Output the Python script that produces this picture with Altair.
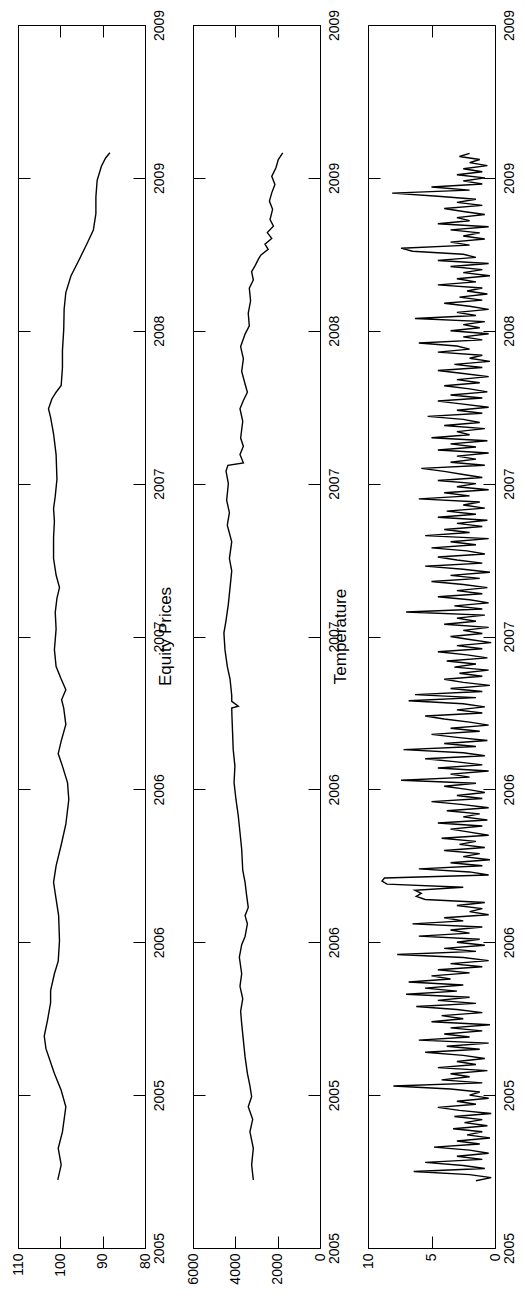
import json
import altair as alt
import pandas as pd

# ---------------- data ----------------
TIME_TICKS = [2005, 2005.5, 2006, 2006.5, 2007, 2007.5, 2008, 2008.5, 2009]
TIME_LABELS = ["2005", "2005", "2006", "2006", "2007", "2007", "2008", "2009", "2009"]

PROD_T = [2005.223, 2005.272, 2005.326, 2005.380, 2005.462, 2005.516, 2005.571, 2005.652,
          2005.693, 2005.747, 2005.802, 2005.842, 2005.897, 2005.938, 2006.005, 2006.087,
          2006.141, 2006.196, 2006.250, 2006.318, 2006.386, 2006.467, 2006.522, 2006.576,
          2006.617, 2006.658, 2006.712, 2006.766, 2006.793, 2006.826, 2006.861, 2006.902,
          2006.957, 2007.024, 2007.079, 2007.125, 2007.160, 2007.201, 2007.255, 2007.323,
          2007.378, 2007.418, 2007.459, 2007.514, 2007.595, 2007.663, 2007.717, 2007.745,
          2007.777, 2007.799, 2007.821, 2007.880, 2007.935, 2008.003, 2008.071, 2008.125,
          2008.179, 2008.234, 2008.288, 2008.329, 2008.383, 2008.438, 2008.492, 2008.538,
          2008.565, 2008.582]
PROD_V = [100.6, 99.8, 100.5, 99.5, 98.7, 99.8, 101.4, 103.4,
          103.8, 103.0, 102.3, 102.3, 101.4, 100.5, 100.2, 100.4,
          101.0, 101.6, 101.0, 99.8, 98.7, 98.0, 98.3, 99.5,
          100.5, 99.8, 98.7, 99.2, 99.7, 98.7, 99.8, 101.0,
          101.4, 101.0, 101.2, 100.8, 100.2, 101.0, 101.6, 101.6,
          101.4, 101.6, 101.2, 100.8, 101.0, 101.6, 102.3, 102.8,
          102.0, 101.0, 99.8, 99.5, 99.5, 99.2, 99.1, 98.7,
          97.5, 95.5, 93.6, 92.2, 91.6, 91.6, 91.3, 90.3,
          89.3, 88.3]

EQ_T = [2005.223, 2005.272, 2005.326, 2005.380, 2005.421, 2005.462, 2005.495, 2005.530,
        2005.571, 2005.625, 2005.679, 2005.734, 2005.774, 2005.815, 2005.856, 2005.897,
        2005.951, 2005.992, 2006.019, 2006.060, 2006.087, 2006.114, 2006.155, 2006.196,
        2006.236, 2006.304, 2006.359, 2006.413, 2006.467, 2006.522, 2006.576, 2006.630,
        2006.685, 2006.739, 2006.766, 2006.772, 2006.788, 2006.807, 2006.861, 2006.902,
        2006.957, 2007.011, 2007.052, 2007.106, 2007.160, 2007.215, 2007.255, 2007.310,
        2007.364, 2007.405, 2007.446, 2007.500, 2007.541, 2007.560, 2007.568, 2007.595,
        2007.622, 2007.649, 2007.704, 2007.745, 2007.772, 2007.799, 2007.826, 2007.867,
        2007.908, 2007.948, 2007.989, 2008.016, 2008.057, 2008.098, 2008.139, 2008.166,
        2008.193, 2008.212, 2008.234, 2008.247, 2008.266, 2008.283, 2008.302, 2008.321,
        2008.342, 2008.364, 2008.397, 2008.424, 2008.451, 2008.478, 2008.505, 2008.533,
        2008.560, 2008.582]
EQ_V = [3150, 3230, 3150, 3310, 3180, 3390, 3230, 3310,
        3430, 3540, 3620, 3700, 3750, 3650, 3780, 3700,
        3810, 3700, 3540, 3430, 3540, 3390, 3470, 3540,
        3650, 3700, 3780, 3860, 3970, 4060, 4020, 4100,
        4130, 4160, 4170, 3860, 4170, 4170, 4250, 4380,
        4490, 4540, 4440, 4330, 4250, 4170, 4280, 4170,
        4380, 4280, 4410, 4330, 4440, 4350, 3620, 3780,
        3620, 3750, 3650, 3780, 3620, 3430, 3540, 3700,
        3620, 3750, 3540, 3340, 3390, 3280, 3340, 3150,
        3230, 3070, 2910, 2800, 2450, 2600, 2280, 2490,
        2200, 2360, 2240, 2390, 2280, 2130, 2280, 2080,
        1970, 1760]

TEMP_START = 2005.22
TEMP_STEP = 0.01
TEMP_V = [
    1.5, 0.3, 2.0, 6.4, 0.8, 2.5, 5.5, 1.0, 3.0, 0.5,
    2.0, 4.8, 1.2, 3.0, 0.4, 2.2, 1.0, 3.3, 0.6, 2.4,
    1.0, 3.2, 0.3, 2.8, 4.5, 1.5, 3.0, 0.5, 2.0, 1.2,
    3.5, 8.0, 1.0, 4.2, 2.0, 3.5, 0.6, 4.5, 1.5, 3.0,
    0.8, 2.5, 5.5, 1.2, 3.8, 0.5, 6.0, 2.0, 4.0, 1.0,
    3.5, 0.4, 5.0, 2.5, 4.2, 1.0, 3.0, 6.2, 1.5, 4.5,
    2.0, 7.0, 3.0, 5.5, 2.5, 6.8, 3.5, 5.0, 2.0, 4.5,
    1.0, 3.5, 0.5, 2.5, 7.7, 1.5, 4.0, 0.8, 3.0, 1.2,
    6.0, 2.0, 3.5, 1.0, 6.5, 2.5, 4.0, 0.5, 2.0, 1.0,
    3.0, 0.8, 5.5, 6.2, 5.8, 6.3, 2.5, 8.5, 8.9, 8.7,
    0.5, 2.0, 6.0, 1.0, 3.5, 0.4, 2.5, 1.2, 4.0, 0.8,
    2.8, 1.5, 4.2, 0.5, 2.0, 3.5, 1.0, 4.5, 0.6, 2.5,
    1.2, 3.8, 0.5, 2.5, 5.0, 1.0, 3.0, 0.8, 2.2, 4.0,
    1.5, 7.4, 2.0, 3.5, 0.5, 4.5, 1.0, 3.0, 5.5, 0.8,
    2.5, 7.2, 1.5, 4.0, 0.6, 3.0, 5.0, 1.2, 3.5, 0.5,
    2.0, 4.0, 5.5, 1.0, 3.0, 0.8, 2.5, 6.8, 1.5, 6.3,
    1.0, 3.5, 0.4, 2.5, 4.0, 1.0, 2.8, 0.5, 3.2, 1.5,
    3.8, 0.6, 2.2, 4.5, 1.0, 3.0, 0.3, 2.0, 3.5, 1.0,
    2.5, 0.5, 4.0, 1.5, 3.0, 0.8, 7.0, 1.0, 3.2, 0.5,
    2.0, 4.5, 1.0, 3.0, 0.6, 2.5, 5.0, 1.2, 3.5, 0.4,
    2.5, 5.5, 1.0, 3.0, 4.5, 0.8, 2.2, 5.0, 1.5, 3.5,
    0.5, 5.5, 2.0, 4.0, 1.0, 3.0, 0.6, 4.5, 1.5, 3.8,
    0.8, 2.5, 1.2, 6.0, 2.0, 4.0, 0.5, 3.0, 1.5, 4.5,
    1.0, 2.5, 4.0, 5.8, 0.8, 3.5, 1.5, 3.0, 0.5, 4.5,
    1.5, 3.5, 0.6, 5.0, 2.0, 3.0, 0.8, 4.0, 1.2, 2.5,
    5.3, 1.0, 3.0, 0.5, 2.5, 4.5, 1.0, 3.5, 0.6, 2.0,
    4.0, 1.2, 3.0, 0.5, 2.5, 4.5, 1.0, 3.2, 0.4, 2.0,
    1.0, 4.5, 2.0, 3.0, 6.0, 1.0, 2.5, 0.5, 3.5, 1.2,
    2.5, 0.8, 6.3, 1.5, 3.0, 0.5, 2.0, 4.0, 1.0, 2.8,
    0.6, 2.2, 1.0, 4.5, 1.5, 3.0, 0.4, 2.5, 1.0, 3.5,
    0.5, 4.5, 1.5, 2.5, 6.5, 7.4, 2.0, 3.5, 0.8, 2.5,
    1.2, 3.5, 0.5, 4.5, 2.0, 3.0, 0.8, 2.5, 4.0, 1.0,
    3.0, 1.5, 4.5, 8.1, 2.0, 5.0, 1.0, 2.5, 0.8, 3.0,
    1.0, 2.5, 0.6, 2.0, 1.2, 2.8, 2.0,
]
TEMP_T = [round(TEMP_START + i * TEMP_STEP, 4) for i in range(len(TEMP_V))]

PANELS = [
    ("Production", PROD_T, PROD_V, [80, 110], [80, 90, 100, 110]),
    ("Equity Prices", EQ_T, EQ_V, [0, 6000], [0, 2000, 4000, 6000]),
    ("Temperature", TEMP_T, TEMP_V, [0, 10], [0, 5, 10]),
]

# ---------------- styling ----------------
FONT = "Liberation Sans"
FS = 14
TFS = 17
TICK = 12
PW, PH = 127, 1223

label_expr = json.dumps(TIME_LABELS) + "[round((datum.value - 2005) * 2)]"


def panel(title, ts, vs, domain, ticks):
    df = pd.DataFrame({"t": ts, "v": vs})
    xs = alt.Scale(domain=domain, reverse=True, nice=False, zero=False)
    ys = alt.Scale(domain=[2005, 2009], nice=False, zero=False)
    common = dict(offset=-TICK, tickSize=TICK, domain=False, grid=False,
                  tickColor="black", tickWidth=1, title=None, minExtent=0,
                  labelFont=FONT, labelFontSize=FS, labelColor="black",
                  labelOverlap=False, labelFlush=False, labelBound=False)
    main = alt.Chart(df).mark_line(color="black", strokeWidth=1.4).encode(
        x=alt.X("v:Q", scale=xs,
                axis=alt.Axis(orient="bottom", values=ticks, format="d", labelAngle=-90,
                              labelAlign="right", labelBaseline="middle",
                              labelPadding=5, **common)),
        y=alt.Y("t:Q", scale=ys,
                axis=alt.Axis(orient="right", values=TIME_TICKS, labelExpr=label_expr,
                              labelAngle=-90, labelAlign="center", labelBaseline="top",
                              labelPadding=7, **common)),
        order="t:Q",
    )
    mirror = alt.Chart(df).mark_line(strokeOpacity=0).encode(
        x=alt.X("v:Q", scale=xs,
                axis=alt.Axis(orient="top", values=ticks, labels=False, **common)),
        y=alt.Y("t:Q", scale=ys,
                axis=alt.Axis(orient="left", values=TIME_TICKS, labels=False, **common)),
        order="t:Q",
    )
    return alt.layer(main, mirror).properties(
        width=PW, height=PH,
        title=alt.TitleParams(title, orient="left", anchor="middle", offset=11,
                              fontSize=TFS, font=FONT, fontWeight="normal", color="black"),
    )


charts = [panel(*p) for p in PANELS]

chart = alt.hconcat(*charts, spacing=48, bounds="flush").properties(
    padding={"left": -27, "top": 0, "right": -2, "bottom": 0},
    background="white",
).configure_view(stroke="black", strokeWidth=1, fill="white")

chart.save("out.html", embed_options={"renderer": "svg", "actions": False})
